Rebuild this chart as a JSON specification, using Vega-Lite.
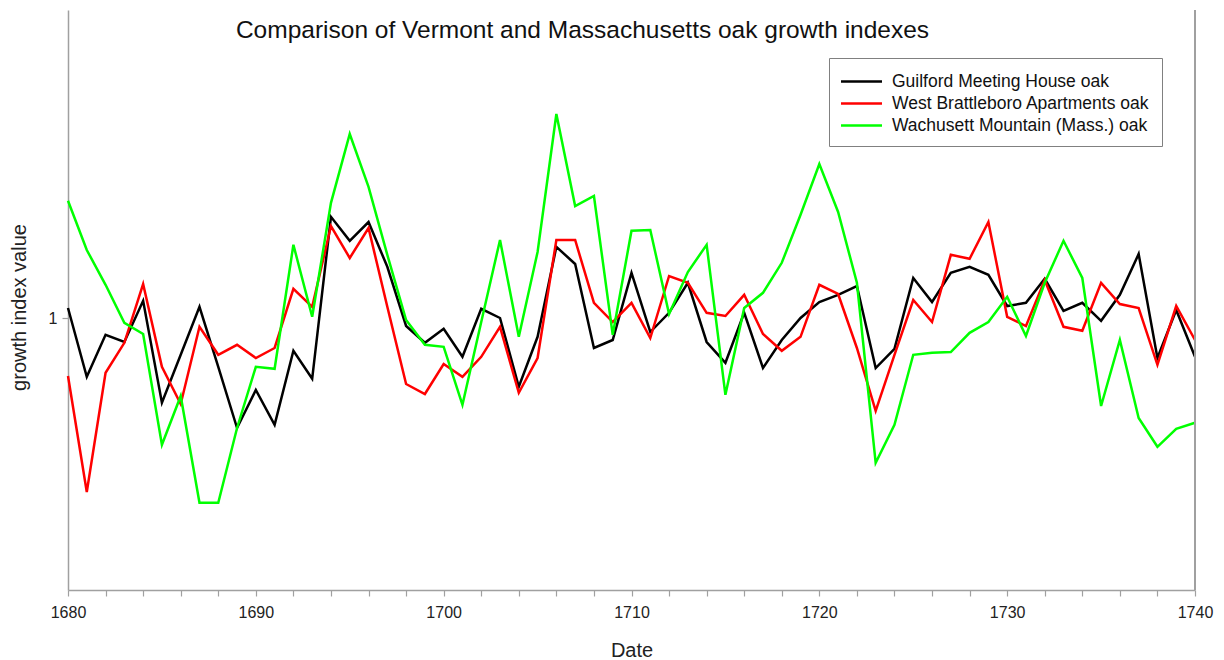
{
  "$schema": "https://vega.github.io/schema/vega-lite/v6.json",
  "width": 1127,
  "height": 580,
  "autosize": {"type": "none"},
  "padding": {"left": 68, "top": 10, "right": 29, "bottom": 70},
  "background": "white",
  "config": {
    "view": {"stroke": null},
    "font": "Liberation Sans",
    "axis": {"domainColor": "#a0a0a0", "tickColor": "#a0a0a0", "domainWidth": 1.5, "tickWidth": 1.2, "labelColor": "#222222", "titleColor": "#222222", "labelFont": "Liberation Sans", "titleFont": "Liberation Sans", "grid": false, "labelOverlap": false}
  },
  "title": {
    "text": "Comparison of Vermont and Massachusetts oak growth indexes",
    "font": "Liberation Sans",
    "fontSize": 24.5,
    "fontWeight": "normal",
    "color": "#111111",
    "anchor": "middle",
    "dx": -49,
    "offset": -34
  },
  "data": {
    "values": [
      {"year": 1680, "G": 1.025, "W": 0.855, "M": 1.293},
      {"year": 1681, "G": 0.853, "W": 0.565, "M": 1.17},
      {"year": 1682, "G": 0.958, "W": 0.863, "M": 1.083},
      {"year": 1683, "G": 0.94, "W": 0.938, "M": 0.988},
      {"year": 1684, "G": 1.043, "W": 1.085, "M": 0.96},
      {"year": 1685, "G": 0.788, "W": 0.878, "M": 0.683},
      {"year": 1686, "G": 0.908, "W": 0.785, "M": 0.805},
      {"year": 1687, "G": 1.028, "W": 0.978, "M": 0.538},
      {"year": 1688, "G": 0.878, "W": 0.908, "M": 0.538},
      {"year": 1689, "G": 0.725, "W": 0.933, "M": 0.725},
      {"year": 1690, "G": 0.82, "W": 0.9, "M": 0.878},
      {"year": 1691, "G": 0.733, "W": 0.925, "M": 0.873},
      {"year": 1692, "G": 0.918, "W": 1.073, "M": 1.183},
      {"year": 1693, "G": 0.848, "W": 1.028, "M": 1.003},
      {"year": 1694, "G": 1.253, "W": 1.23, "M": 1.288},
      {"year": 1695, "G": 1.193, "W": 1.15, "M": 1.46},
      {"year": 1696, "G": 1.24, "W": 1.225, "M": 1.328},
      {"year": 1697, "G": 1.128, "W": 1.028, "M": 1.158},
      {"year": 1698, "G": 0.98, "W": 0.835, "M": 0.995},
      {"year": 1699, "G": 0.938, "W": 0.81, "M": 0.933},
      {"year": 1700, "G": 0.973, "W": 0.885, "M": 0.928},
      {"year": 1701, "G": 0.903, "W": 0.853, "M": 0.783},
      {"year": 1702, "G": 1.023, "W": 0.903, "M": 0.99},
      {"year": 1703, "G": 1.0, "W": 0.978, "M": 1.195},
      {"year": 1704, "G": 0.828, "W": 0.813, "M": 0.953},
      {"year": 1705, "G": 0.953, "W": 0.9, "M": 1.165},
      {"year": 1706, "G": 1.178, "W": 1.195, "M": 1.51},
      {"year": 1707, "G": 1.135, "W": 1.195, "M": 1.28},
      {"year": 1708, "G": 0.925, "W": 1.038, "M": 1.305},
      {"year": 1709, "G": 0.945, "W": 0.99, "M": 0.958},
      {"year": 1710, "G": 1.113, "W": 1.038, "M": 1.218},
      {"year": 1711, "G": 0.965, "W": 0.95, "M": 1.22},
      {"year": 1712, "G": 1.013, "W": 1.105, "M": 1.01},
      {"year": 1713, "G": 1.088, "W": 1.088, "M": 1.115},
      {"year": 1714, "G": 0.94, "W": 1.013, "M": 1.183},
      {"year": 1715, "G": 0.888, "W": 1.005, "M": 0.808},
      {"year": 1716, "G": 1.013, "W": 1.058, "M": 1.025},
      {"year": 1717, "G": 0.875, "W": 0.96, "M": 1.063},
      {"year": 1718, "G": 0.945, "W": 0.918, "M": 1.138},
      {"year": 1719, "G": 1.0, "W": 0.953, "M": 1.258},
      {"year": 1720, "G": 1.04, "W": 1.083, "M": 1.385},
      {"year": 1721, "G": 1.058, "W": 1.06, "M": 1.265},
      {"year": 1722, "G": 1.08, "W": 0.925, "M": 1.088},
      {"year": 1723, "G": 0.875, "W": 0.768, "M": 0.638},
      {"year": 1724, "G": 0.923, "W": 0.908, "M": 0.733},
      {"year": 1725, "G": 1.1, "W": 1.045, "M": 0.908},
      {"year": 1726, "G": 1.04, "W": 0.99, "M": 0.913},
      {"year": 1727, "G": 1.113, "W": 1.158, "M": 0.915},
      {"year": 1728, "G": 1.128, "W": 1.148, "M": 0.963},
      {"year": 1729, "G": 1.108, "W": 1.24, "M": 0.99},
      {"year": 1730, "G": 1.03, "W": 1.003, "M": 1.053},
      {"year": 1731, "G": 1.038, "W": 0.98, "M": 0.955},
      {"year": 1732, "G": 1.098, "W": 1.095, "M": 1.088},
      {"year": 1733, "G": 1.018, "W": 0.978, "M": 1.193},
      {"year": 1734, "G": 1.038, "W": 0.968, "M": 1.1},
      {"year": 1735, "G": 0.993, "W": 1.088, "M": 0.78},
      {"year": 1736, "G": 1.058, "W": 1.035, "M": 0.945},
      {"year": 1737, "G": 1.16, "W": 1.025, "M": 0.75},
      {"year": 1738, "G": 0.9, "W": 0.883, "M": 0.678},
      {"year": 1739, "G": 1.02, "W": 1.03, "M": 0.723},
      {"year": 1740, "G": 0.903, "W": 0.945, "M": 0.738}
    ]
  },
  "layer": [
    {
      "transform": [
        {"fold": ["G", "W", "M"], "as": ["site", "value"]}
      ],
      "mark": {"type": "line", "strokeWidth": 2.5, "strokeJoin": "miter"},
      "encoding": {
        "x": {
          "field": "year",
          "type": "quantitative",
          "scale": {"domain": [1680, 1740], "nice": false, "zero": false},
          "axis": {
            "title": "Date",
            "titleFontSize": 20,
            "titleFontWeight": "normal",
            "titlePadding": 20,
            "values": [1680, 1682, 1684, 1686, 1688, 1690, 1692, 1694, 1696, 1698, 1700, 1702, 1704, 1706, 1708, 1710, 1712, 1714, 1716, 1718, 1720, 1722, 1724, 1726, 1728, 1730, 1732, 1734, 1736, 1738, 1740],
            "labelExpr": "datum.value % 10 === 0 ? format(datum.value, 'd') : ''",
            "labelFontSize": 16,
            "labelPadding": 8,
            "tickSize": 6,
            "labelFlush": false,
            "labelOverlap": false
          }
        },
        "y": {
          "field": "value",
          "type": "quantitative",
          "scale": {"domain": [0.32, 1.77], "nice": false, "zero": false},
          "axis": {
            "title": "growth index value",
            "titleFontSize": 20,
            "titleFontWeight": "normal",
            "titlePadding": 19,
            "titleY": 297,
            "values": [1],
            "format": "d",
            "labelFontSize": 16,
            "labelPadding": 5,
            "tickSize": 6
          }
        },
        "color": {
          "field": "site",
          "type": "nominal",
          "scale": {
            "domain": ["G", "W", "M"],
            "range": ["#000000", "#ff0000", "#00ff00"]
          },
          "legend": {
            "title": null,
            "orient": "none",
            "legendX": 761,
            "legendY": 48,
            "strokeColor": "#808080",
            "fillColor": "white",
            "padding": 12,
            "labelFontSize": 17.5,
            "labelFont": "Liberation Sans",
            "labelColor": "#111111",
            "labelLimit": 400,
            "labelOffset": 19,
            "labelExpr": "datum.value === 'G' ? 'Guilford Meeting House oak' : datum.value === 'W' ? 'West Brattleboro Apartments oak' : 'Wachusett Mountain (Mass.) oak'",
            "symbolType": "M-2,0H2",
            "symbolSize": 420,
            "symbolOffset": 9,
            "symbolStrokeWidth": 2.5,
            "rowPadding": 2
          }
        }
      }
    },
    {
      "mark": {"type": "rule", "color": "#a0a0a0", "strokeWidth": 1.5},
      "encoding": {
        "x": {
          "datum": 1740,
          "type": "quantitative",
          "axis": {
            "title": "Date",
            "titleFontSize": 20,
            "titleFontWeight": "normal",
            "titlePadding": 20,
            "values": [1680, 1682, 1684, 1686, 1688, 1690, 1692, 1694, 1696, 1698, 1700, 1702, 1704, 1706, 1708, 1710, 1712, 1714, 1716, 1718, 1720, 1722, 1724, 1726, 1728, 1730, 1732, 1734, 1736, 1738, 1740],
            "labelExpr": "datum.value % 10 === 0 ? format(datum.value, 'd') : ''",
            "labelFontSize": 16,
            "labelPadding": 8,
            "tickSize": 6,
            "labelFlush": false,
            "labelOverlap": false
          }
        }
      }
    }
  ]
}
